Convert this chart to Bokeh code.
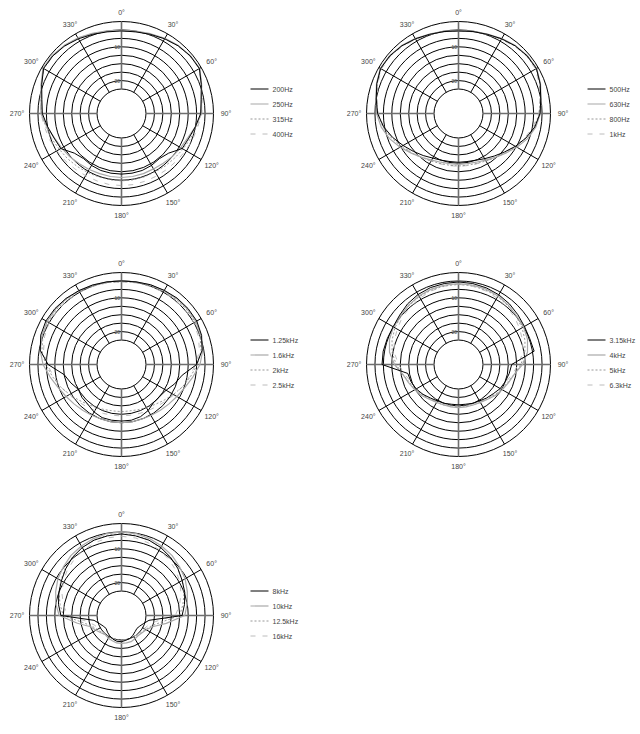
import numpy as np
from bokeh.plotting import figure
from bokeh.models import Range1d
from bokeh.core.properties import value
from bokeh.embed import file_html
from bokeh.resources import INLINE

# measurement angles, degrees clockwise from on-axis (0°)
angles = list(range(0, 360, 10))

# radial scale (dB) of the rings, outermost first
ring_db = [-2.5, -5.0, -7.5, -10.0, -12.5, -15.0, -17.5, -20.0, -22.5]
ring_labels = ["-10", "-20"]
ring_label_db = [-10.0, -20.0]
angle_ticks = list(range(0, 360, 30))

# panel 1
labels_1 = ["200Hz", "250Hz", "315Hz", "400Hz"]
hz200 = [-5.3, -5.2, -4.8, -4.2, -3.6, -3.2, -3.1, -4.6, -5.8, -6.3, -7.5, -8.5, -9.0, -11.5, -12.3, -12.0, -11.8, -11.8, -11.8,
         -11.8, -11.8, -12.0, -12.3, -11.5, -9.0, -8.5, -7.5, -6.3, -5.8, -4.6, -3.1, -3.2, -3.6, -4.2, -4.8, -5.2]
hz250 = [-5.1, -5.0, -4.6, -4.0, -3.5, -3.1, -3.0, -4.5, -5.7, -6.0, -7.5, -8.8, -9.5, -10.0, -10.5, -10.8, -10.8, -10.8, -10.8,
         -10.8, -10.8, -10.6, -10.3, -9.8, -9.3, -8.6, -7.3, -5.9, -5.6, -4.4, -2.9, -3.0, -3.4, -3.9, -4.5, -4.9]
hz315 = [-5.2, -5.1, -4.7, -4.1, -3.6, -3.2, -3.1, -4.5, -5.6, -6.2, -7.2, -8.0, -8.7, -9.2, -9.5, -9.8, -9.8, -9.8, -9.8,
         -9.8, -9.8, -9.6, -9.3, -8.9, -8.5, -7.8, -7.0, -6.1, -5.5, -4.5, -3.1, -3.1, -3.5, -4.0, -4.6, -5.0]
hz400 = [-5.3, -5.2, -4.8, -4.2, -3.7, -3.3, -3.2, -4.6, -5.5, -6.0, -6.8, -7.3, -7.8, -8.2, -8.4, -8.5, -8.5, -8.4, -8.4,
         -8.4, -8.5, -8.5, -8.3, -8.0, -7.6, -7.1, -6.6, -5.9, -5.4, -4.5, -3.2, -3.3, -3.7, -4.1, -4.7, -5.1]

# panel 2
labels_2 = ["500Hz", "630Hz", "800Hz", "1kHz"]
hz500 = [-5.3, -5.1, -4.8, -4.2, -3.6, -3.2, -3.1, -4.0, -5.0, -5.6, -6.8, -8.5, -10.3, -12.0, -13.3, -14.3, -15.0, -15.3, -15.3,
         -15.3, -15.0, -14.5, -13.5, -12.3, -10.8, -9.0, -7.2, -5.8, -5.0, -4.0, -3.1, -3.2, -3.6, -4.2, -4.8, -5.1]
hz630 = [-5.2, -5.0, -4.7, -4.1, -3.5, -3.1, -3.0, -3.9, -4.9, -5.5, -6.5, -8.0, -9.8, -11.5, -12.8, -13.8, -14.4, -14.7, -14.7,
         -14.7, -14.4, -13.8, -12.8, -11.5, -9.8, -8.0, -6.5, -5.5, -4.9, -3.9, -3.0, -3.1, -3.5, -4.1, -4.7, -5.0]
hz800 = [-5.3, -5.1, -4.8, -4.3, -3.7, -3.3, -3.2, -4.1, -5.1, -5.8, -7.0, -8.6, -10.2, -11.6, -12.7, -13.5, -14.0, -14.2, -14.2,
         -14.2, -14.0, -13.5, -12.7, -11.6, -10.2, -8.6, -7.0, -5.8, -5.1, -4.1, -3.2, -3.3, -3.7, -4.3, -4.8, -5.1]
hz1k = [-5.4, -5.2, -4.9, -4.4, -3.8, -3.4, -3.4, -4.3, -5.3, -6.0, -7.3, -8.8, -10.4, -11.8, -12.8, -13.5, -13.9, -14.1, -14.1,
        -14.1, -13.9, -13.5, -12.8, -11.8, -10.4, -8.8, -7.3, -6.0, -5.3, -4.3, -3.4, -3.4, -3.8, -4.4, -4.9, -5.2]

# panel 3
labels_3 = ["1.25kHz", "1.6kHz", "2kHz", "2.5kHz"]
hz1250 = [-5.0, -4.9, -4.6, -4.4, -4.1, -4.0, -4.0, -4.5, -5.5, -7.5, -11.5, -13.0, -14.5, -15.0, -15.0, -14.0, -13.3, -13.0, -13.0,
          -13.0, -13.0, -13.5, -14.3, -14.5, -15.0, -13.8, -12.5, -8.0, -5.3, -4.3, -3.9, -4.0, -4.2, -4.5, -4.7, -4.9]
hz1600 = [-5.0, -4.9, -4.7, -4.5, -4.3, -4.2, -4.3, -4.7, -5.3, -6.5, -8.3, -9.8, -10.8, -11.5, -12.0, -12.3, -12.5, -12.5, -12.5,
          -12.5, -12.5, -12.3, -12.0, -11.5, -10.8, -9.8, -8.3, -6.5, -5.3, -4.7, -4.3, -4.2, -4.3, -4.5, -4.7, -4.9]
hz2000 = [-5.2, -5.1, -5.0, -4.8, -4.6, -4.5, -4.6, -5.0, -5.8, -7.3, -9.0, -10.5, -12.0, -13.3, -14.3, -15.0, -15.5, -15.8, -15.8,
          -15.8, -15.5, -15.0, -14.3, -13.3, -12.0, -10.5, -9.0, -7.3, -5.8, -5.0, -4.6, -4.5, -4.6, -4.8, -5.0, -5.1]
hz2500 = [-5.3, -5.2, -5.1, -5.0, -4.9, -4.9, -5.0, -5.5, -6.3, -7.8, -9.3, -10.5, -11.8, -12.8, -13.5, -14.0, -14.3, -14.5, -14.5,
          -14.5, -14.3, -14.0, -13.5, -12.8, -11.8, -10.5, -9.3, -7.8, -6.3, -5.5, -5.0, -4.9, -4.9, -5.0, -5.1, -5.2]

# panel 4
labels_4 = ["3.15kHz", "4kHz", "5kHz", "6.3kHz"]
hz3150 = [-5.3, -5.4, -5.6, -5.9, -6.3, -6.8, -7.2, -7.3, -7.0, -14.0, -14.5, -15.0, -15.5, -16.3, -16.8, -17.3, -17.5, -17.8, -17.8,
          -17.8, -17.5, -17.3, -16.8, -16.0, -15.3, -14.8, -14.5, -7.1, -7.1, -7.3, -7.4, -7.0, -6.3, -5.8, -5.5, -5.4]
hz4000 = [-5.8, -5.9, -6.0, -6.3, -6.8, -7.3, -7.5, -8.0, -9.0, -10.8, -13.0, -14.0, -14.8, -15.5, -16.3, -16.8, -17.0, -17.0, -17.0,
          -17.0, -17.0, -16.8, -16.3, -15.5, -14.8, -14.0, -13.0, -10.8, -9.0, -8.0, -7.5, -7.3, -6.8, -6.3, -6.0, -5.9]
hz5000 = [-6.0, -6.1, -6.3, -6.5, -7.0, -7.5, -8.0, -8.8, -9.8, -11.3, -13.0, -14.3, -15.0, -15.8, -16.5, -16.8, -17.0, -17.3, -17.3,
          -17.3, -17.0, -16.8, -16.5, -15.8, -15.0, -14.3, -13.0, -11.3, -9.8, -8.8, -8.0, -7.5, -7.0, -6.5, -6.3, -6.1]
hz6300 = [-6.0, -6.2, -6.5, -7.0, -7.5, -8.0, -8.8, -9.5, -10.5, -12.0, -13.5, -14.8, -15.3, -16.0, -16.5, -17.0, -17.3, -17.5, -17.5,
          -17.5, -17.3, -17.0, -16.5, -16.0, -15.3, -14.8, -13.5, -12.0, -10.5, -9.5, -8.8, -8.0, -7.5, -7.0, -6.5, -6.2]

# panel 5
labels_5 = ["8kHz", "10kHz", "12.5kHz", "16kHz"]
hz8000 = [-5.6, -5.8, -6.0, -6.5, -7.2, -8.0, -9.0, -9.8, -10.8, -11.8, -21.5, -22.8, -23.5, -23.8, -23.5, -23.0, -22.5, -22.3, -22.0,
          -22.0, -22.3, -22.8, -23.3, -23.8, -23.5, -22.8, -21.5, -11.8, -10.8, -10.0, -9.2, -8.2, -7.2, -6.5, -6.0, -5.8]
hz10k = [-5.0, -5.1, -5.5, -6.0, -6.5, -7.3, -8.0, -9.0, -10.0, -11.0, -16.3, -20.0, -21.3, -21.8, -22.0, -21.8, -21.5, -21.5, -21.5,
         -21.5, -21.8, -22.0, -22.3, -21.8, -21.0, -20.0, -16.5, -11.3, -10.0, -9.0, -8.0, -7.3, -6.5, -6.0, -5.5, -5.1]
hz12k5 = [-5.5, -5.6, -6.0, -6.5, -7.3, -8.0, -9.0, -10.0, -11.3, -12.5, -18.0, -20.5, -21.5, -22.0, -22.3, -22.5, -22.5, -22.5, -22.5,
          -22.5, -22.5, -22.5, -22.3, -22.0, -21.5, -20.5, -18.0, -12.5, -11.3, -10.0, -9.0, -8.0, -7.3, -6.5, -6.0, -5.6]
hz16k = [-6.3, -6.4, -6.8, -7.3, -8.0, -8.8, -9.8, -11.0, -12.3, -13.8, -19.5, -21.3, -22.0, -22.3, -22.5, -22.5, -22.5, -22.5, -22.5,
         -22.5, -22.5, -22.5, -22.5, -22.3, -22.0, -21.3, -19.5, -13.8, -12.3, -11.0, -9.8, -8.8, -8.0, -7.3, -6.8, -6.4]

panels = [
    ((121, 113), labels_1, [hz200, hz250, hz315, hz400]),
    ((458, 113), labels_2, [hz500, hz630, hz800, hz1k]),
    ((121, 364), labels_3, [hz1250, hz1600, hz2000, hz2500]),
    ((458, 364), labels_4, [hz3150, hz4000, hz5000, hz6300]),
    ((121, 615), labels_5, [hz8000, hz10k, hz12k5, hz16k]),
]

styles = [
    dict(line_color="black", line_width=1.0, line_dash="solid"),
    dict(line_color="#a8a8a8", line_width=1.2, line_dash="solid"),
    dict(line_color="#8c8c8c", line_width=0.9, line_dash="2 2"),
    dict(line_color="#b4b4b4", line_width=0.9, line_dash="5 7"),
]

R_OUT, R_IN = 92.0, 24.5
FONT = value("Liberation Sans")
W, H = 636, 728


def rad(db):
    db = np.asarray(db, dtype=float)
    return R_IN + (db - ring_db[-1]) / (ring_db[0] - ring_db[-1]) * (R_OUT - R_IN)


p = figure(width=W, height=H, x_range=Range1d(0, W), y_range=Range1d(H, 0),
           output_backend="svg", toolbar_location=None, min_border=0,
           x_axis_type=None, y_axis_type=None)
p.grid.visible = False
p.outline_line_color = None
p.background_fill_color = "white"

for (cx, cy), labels, series in panels:
    # rings
    radii = rad(ring_db)
    p.circle(x=[cx] * len(radii), y=[cy] * len(radii), radius=radii,
             fill_color=None, line_color="black", line_width=1)

    # spokes
    xs_d, ys_d, xs_a, ys_a = [], [], [], []
    for a in angle_ticks:
        t = np.radians(a)
        seg_x = [cx + R_IN * np.sin(t), cx + R_OUT * np.sin(t)]
        seg_y = [cy - R_IN * np.cos(t), cy - R_OUT * np.cos(t)]
        if a % 90 == 0:
            xs_a.append(seg_x); ys_a.append(seg_y)
        else:
            xs_d.append(seg_x); ys_d.append(seg_y)
    p.multi_line(xs_d, ys_d, line_color="black", line_width=1)
    p.multi_line(xs_a, ys_a, line_color="#6e6e6e", line_width=1.6)

    # angle labels
    lx, ly, lt = [], [], []
    for a in angle_ticks:
        t = np.radians(a)
        rr = R_OUT + 9.5 + 3.0 * abs(np.sin(t))
        lx.append(cx + rr * np.sin(t))
        ly.append(cy - rr * np.cos(t))
        lt.append(f"{a}°")
    p.text(x=lx, y=ly, text=lt, text_font=FONT, text_font_size="7px",
           text_align="center", text_baseline="middle", text_color="#444444")

    # dB labels on the 0° spoke
    p.text(x=[cx - 1.5] * len(ring_labels), y=list(cy - rad(ring_label_db)),
           text=ring_labels, text_font=FONT, text_font_size="5px",
           text_align="right", text_baseline="middle", text_color="#444444")

    # response curves (black drawn last, on top)
    th = np.radians(angles + [360])
    for vals, st in reversed(list(zip(series, styles))):
        r = rad(vals + [vals[0]])
        p.line(cx + r * np.sin(th), cy - r * np.cos(th), **st)

    # legend
    for i, (lab, st) in enumerate(zip(labels, styles)):
        yy = cy - 24.5 + 15 * i
        p.line([cx + 129, cx + 147], [yy, yy], **st)
        p.text(x=[cx + 151], y=[yy], text=[lab], text_font=FONT, text_font_size="7px",
               text_align="left", text_baseline="middle", text_color="#444444")

open("out.html", "w").write(file_html(p, INLINE))
